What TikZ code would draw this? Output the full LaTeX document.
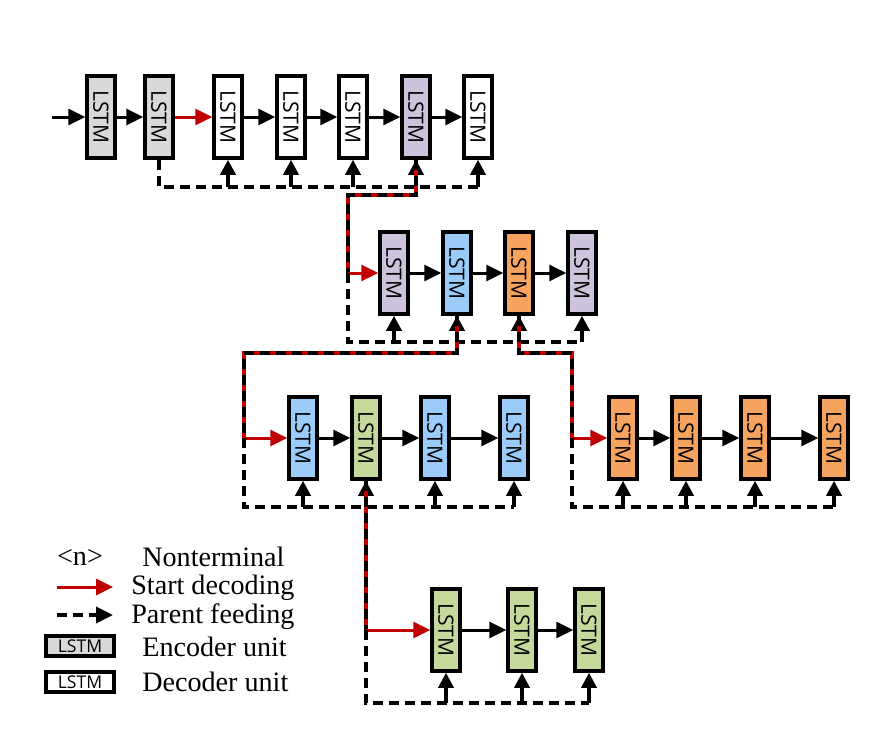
\documentclass[tikz,border=0pt]{standalone}
\usepackage{fontspec}
\setmainfont{Liberation Serif}
\newfontfamily\unitfont{Open Sans}
\usetikzlibrary{arrows.meta}

\definecolor{encgray}{HTML}{D9D9D9}
\definecolor{ntpurple}{HTML}{CDC3DC}
\definecolor{ntblue}{HTML}{9BCBF8}
\definecolor{ntorange}{HTML}{F5A35E}
\definecolor{ntgreen}{HTML}{C5D99D}
\definecolor{startred}{HTML}{C00000}

\newcommand\lstmlabel{\rotatebox{-90}{LSTM}}

\begin{document}
\begin{tikzpicture}[x=0.02cm,y=-0.02cm,
  unit/.style={draw=black, line width=2pt, fill=white, minimum width=0.56cm,
    minimum height=1.64cm, inner sep=0pt,
    font=\unitfont\fontsize{12}{12}\selectfont},
  legunit/.style={draw=black, line width=2pt, minimum width=1.36cm,
    minimum height=0.4cm, inner sep=0pt,
    font=\unitfont\fontsize{10}{10}\selectfont},
  flow/.style={line width=1.7pt, -{Triangle[length=0.34cm,width=0.32cm]}},
  start/.style={flow, draw=startred, color=startred},
  feedbus/.style={line width=2pt, dash pattern=on 0.2cm off 0.12cm},
  feedup/.style={line width=2pt, -{Triangle[length=0.3cm,width=0.3cm]}},
  parent/.style={line width=2pt, draw=startred,
    postaction={draw=black, dash pattern=on 0.2cm off 0.12cm}},
  legtext/.style={anchor=west, font=\fontsize{16}{18}\selectfont, inner sep=0pt},
]
\useasboundingbox (0,0) rectangle (888,728);

% ---------- row 1: encoder and root decoder ----------
\node[unit, fill=encgray] (e1) at (101,117) {\lstmlabel};
\node[unit, fill=encgray] (e2) at (159,117) {\lstmlabel};
\node[unit] (d1) at (228,117) {\lstmlabel};
\node[unit] (d2) at (291,117) {\lstmlabel};
\node[unit] (d3) at (353,117) {\lstmlabel};
\node[unit, fill=ntpurple] (d4) at (416,117) {\lstmlabel};
\node[unit] (d5) at (478,117) {\lstmlabel};
\coordinate (in) at (52,117);
\draw[flow] (in) -- (e1);
\draw[flow] (e1) -- (e2);
\draw[start] (e2) -- (d1);
\draw[flow] (d1) -- (d2);
\draw[flow] (d2) -- (d3);
\draw[flow] (d3) -- (d4);
\draw[flow] (d4) -- (d5);
\coordinate (bus1) at (0,187);
\draw[feedbus] (e2.south) -- (e2.south |- bus1) -- (d5.south |- bus1);
\foreach \n in {d1,d2,d3,d4,d5}
  \draw[feedup] (\n.south |- bus1) -- (\n.south);

% ---------- row 2: children of the purple node ----------
\node[unit, fill=ntpurple] (a1) at (394,273) {\lstmlabel};
\node[unit, fill=ntblue]   (a2) at (457,273) {\lstmlabel};
\node[unit, fill=ntorange] (a3) at (519,273) {\lstmlabel};
\node[unit, fill=ntpurple] (a4) at (582,273) {\lstmlabel};
\coordinate (j2) at (348,273);
\draw[parent] (d4.south) -- (416,195) -- (348,195) -- (j2);
\draw[start] (j2) -- (a1);
\draw[flow] (a1) -- (a2);
\draw[flow] (a2) -- (a3);
\draw[flow] (a3) -- (a4);
\coordinate (bus2) at (0,342);
\draw[feedbus] (j2) -- (j2 |- bus2) -- (a4.south |- bus2);
\foreach \n in {a1,a2,a3,a4}
  \draw[feedup] (\n.south |- bus2) -- (\n.south);

% ---------- row 3 left: children of the blue node ----------
\node[unit, fill=ntblue]  (b1) at (303,438) {\lstmlabel};
\node[unit, fill=ntgreen] (b2) at (366,438) {\lstmlabel};
\node[unit, fill=ntblue]  (b3) at (435,438) {\lstmlabel};
\node[unit, fill=ntblue]  (b4) at (514,438) {\lstmlabel};
\coordinate (j3) at (244,438);
\draw[parent] (a2.south) -- (457,353) -- (244,353) -- (j3);
\draw[start] (j3) -- (b1);
\draw[flow] (b1) -- (b2);
\draw[flow] (b2) -- (b3);
\draw[flow] (b3) -- (b4);
\coordinate (bus3) at (0,507);
\draw[feedbus] (j3) -- (j3 |- bus3) -- (b4.south |- bus3);
\foreach \n in {b1,b2,b3,b4}
  \draw[feedup] (\n.south |- bus3) -- (\n.south);

% ---------- row 3 right: children of the orange node ----------
\node[unit, fill=ntorange] (c1) at (623,438) {\lstmlabel};
\node[unit, fill=ntorange] (c2) at (686,438) {\lstmlabel};
\node[unit, fill=ntorange] (c3) at (755,438) {\lstmlabel};
\node[unit, fill=ntorange] (c4) at (834,438) {\lstmlabel};
\coordinate (k3) at (572,438);
\draw[parent] (a3.south) -- (519,353) -- (572,353) -- (k3);
\draw[start] (k3) -- (c1);
\draw[flow] (c1) -- (c2);
\draw[flow] (c2) -- (c3);
\draw[flow] (c3) -- (c4);
\draw[feedbus] (k3) -- (k3 |- bus3) -- (c4.south |- bus3);
\foreach \n in {c1,c2,c3,c4}
  \draw[feedup] (\n.south |- bus3) -- (\n.south);

% ---------- row 4: children of the green node ----------
\node[unit, fill=ntgreen] (f1) at (446,630) {\lstmlabel};
\node[unit, fill=ntgreen] (f2) at (522,630) {\lstmlabel};
\node[unit, fill=ntgreen] (f3) at (589,630) {\lstmlabel};
\coordinate (j4) at (366,630);
\draw[parent] (b2.south) -- (j4);
\draw[start] (j4) -- (f1);
\draw[flow] (f1) -- (f2);
\draw[flow] (f2) -- (f3);
\coordinate (bus4) at (0,703);
\draw[feedbus] (j4) -- (j4 |- bus4) -- (f3.south |- bus4);
\foreach \n in {f1,f2,f3}
  \draw[feedup] (\n.south |- bus4) -- (\n.south);

% ---------- legend ----------
\node[font=\fontsize{16}{18}\selectfont, inner sep=0pt] (ntsym) at (80,557) {<n>};
\node[legtext] (ntlab) at (142,557) {Nonterminal};
\coordinate (ls1) at (57,587);
\coordinate (le1) at (113,587);
\draw[start] (ls1) -- (le1);
\node[legtext] (sdlab) at (131,588) {Start decoding};
\coordinate (ls2) at (57,615);
\coordinate (le2) at (113,615);
\draw[feedbus, -{Triangle[length=0.34cm,width=0.32cm]}] (ls2) -- (le2);
\node[legtext] (pflab) at (131,617) {Parent feeding};
\node[legunit, fill=encgray] (encbox) at (80,646) {LSTM};
\node[legtext] (enclab) at (142,647) {Encoder unit};
\node[legunit, fill=white] (decbox) at (80,682) {LSTM};
\node[legtext] (declab) at (142,682) {Decoder unit};
\end{tikzpicture}
\end{document}
